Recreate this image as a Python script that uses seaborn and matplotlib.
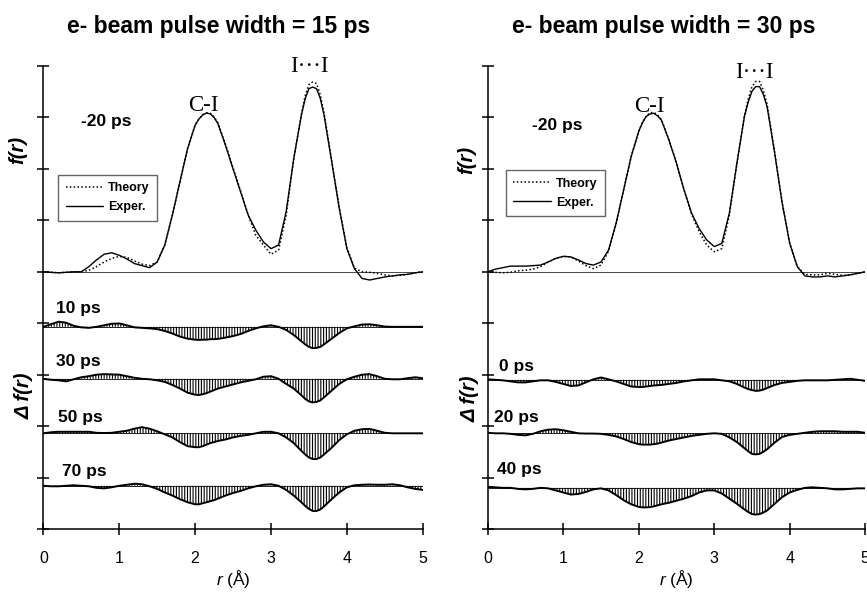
import numpy as np
import pandas as pd
import seaborn as sns
import matplotlib.pyplot as plt

r = np.round(np.linspace(0, 5, 51), 2)
# extra readings taken around the two peaks
r_peak = [2.05, 2.15, 2.25, 3.45, 3.55, 3.65]

# 15 ps panel: f(r) at -20 ps
f_exp_15 = [0, -0.01, -0.02, -0.01, 0, 0, 0.1, 0.23, 0.34, 0.37,
            0.32, 0.25, 0.16, 0.12, 0.08, 0.19, 0.52, 1.1, 1.75, 2.39,
            2.85, 3.05, 3.07, 2.88, 2.46, 2.0, 1.55, 1.1, 0.81, 0.58,
            0.45, 0.52, 1.17, 2.2, 3.04, 3.56, 3.56, 3.04, 2.14, 1.23,
            0.45, 0.06, -0.13, -0.16, -0.13, -0.1, -0.08, -0.06, -0.05, -0.02, 0]
f_exp_15_pk = [2.97, 3.085, 3.0, 3.36, 3.59, 3.37]
f_th_15 = [0, -0.01, -0.02, -0.01, 0, 0, 0.03, 0.1, 0.19, 0.26,
           0.30, 0.28, 0.21, 0.15, 0.12, 0.19, 0.52, 1.1, 1.75, 2.39,
           2.85, 3.05, 3.08, 2.9, 2.48, 2.02, 1.57, 1.1, 0.71, 0.52,
           0.34, 0.42, 1.1, 2.2, 3.06, 3.64, 3.66, 3.08, 2.16, 1.25,
           0.47, 0.07, 0, -0.01, -0.03, -0.06, -0.08, -0.07, -0.05, -0.02, 0]
f_th_15_pk = [2.97, 3.09, 3.01, 3.42, 3.69, 3.44]

# 15 ps panel: difference curves
d_10 = [0, 0.05, 0.1, 0.08, 0.02, -0.01, -0.02, 0, 0.03, 0.06,
        0.065, 0.03, -0.01, -0.02, -0.03, -0.045, -0.08, -0.13, -0.19, -0.23,
        -0.25, -0.25, -0.24, -0.235, -0.21, -0.18, -0.14, -0.08, -0.03, 0.01,
        0.03, 0, -0.06, -0.16, -0.28, -0.39, -0.41, -0.34, -0.23, -0.12,
        -0.03, 0.01, 0.045, 0.05, 0.03, 0.005, 0, 0, 0, 0, 0]
d_10_pk = [-0.255, -0.25, -0.24, -0.34, -0.415, -0.39]
d_30 = [0, -0.02, -0.03, -0.05, -0.01, 0.03, 0.05, 0.08, 0.09, 0.085,
        0.08, 0.05, 0.02, 0, -0.01, -0.03, -0.06, -0.12, -0.19, -0.27,
        -0.31, -0.3, -0.25, -0.19, -0.15, -0.11, -0.07, -0.04, -0.01, 0.04,
        0.05, 0, -0.1, -0.19, -0.32, -0.44, -0.45, -0.36, -0.23, -0.1,
        -0.01, 0.04, 0.08, 0.09, 0.05, 0, -0.01, -0.01, 0.01, 0.03, 0.01]
d_30_pk = [-0.315, -0.28, -0.22, -0.39, -0.46, -0.42]
d_50 = [0, 0.02, 0.03, 0.03, 0.03, 0.03, 0.03, 0.01, 0.005, 0.01,
        0.03, 0.05, 0.09, 0.12, 0.09, 0.04, -0.02, -0.08, -0.17, -0.25,
        -0.27, -0.25, -0.19, -0.15, -0.12, -0.08, -0.05, -0.03, 0, 0.03,
        0.03, 0, -0.08, -0.19, -0.34, -0.47, -0.5, -0.41, -0.28, -0.13,
        -0.02, 0.05, 0.08, 0.085, 0.05, 0.01, 0, 0, 0, 0, 0]
d_50_pk = [-0.27, -0.22, -0.17, -0.41, -0.5, -0.47]
d_70 = [0, -0.01, -0.01, 0, 0.01, 0, -0.01, -0.04, -0.05, -0.03,
        0, 0.02, 0.04, 0.03, -0.01, -0.06, -0.13, -0.19, -0.26, -0.32,
        -0.36, -0.34, -0.3, -0.25, -0.19, -0.14, -0.1, -0.05, -0.01, 0.02,
        0.03, 0, -0.08, -0.19, -0.32, -0.45, -0.49, -0.4, -0.26, -0.13,
        -0.03, 0.01, 0.02, 0.025, 0.02, 0.02, 0.03, 0.01, -0.03, -0.06, -0.08]
d_70_pk = [-0.36, -0.32, -0.28, -0.39, -0.49, -0.46]

# 30 ps panel: f(r) at -20 ps
f_exp_30 = [0, 0.05, 0.08, 0.11, 0.11, 0.11, 0.12, 0.13, 0.19, 0.26,
            0.3, 0.29, 0.23, 0.16, 0.13, 0.19, 0.42, 0.94, 1.59, 2.24,
            2.73, 3.02, 3.08, 2.95, 2.56, 2.11, 1.59, 1.14, 0.84, 0.62,
            0.49, 0.55, 1.14, 2.11, 3.02, 3.51, 3.6, 3.21, 2.31, 1.33,
            0.55, 0.1, -0.08, -0.1, -0.1, -0.08, -0.1, -0.08, -0.06, -0.03, 0]
f_exp_30_pk = [2.9, 3.07, 3.03, 3.3, 3.6, 3.45]
f_th_30 = [0, -0.01, -0.02, -0.01, 0.02, 0.03, 0.05, 0.1, 0.19, 0.26,
           0.3, 0.29, 0.21, 0.12, 0.06, 0.13, 0.4, 0.93, 1.59, 2.24,
           2.73, 3.03, 3.1, 2.96, 2.57, 2.12, 1.6, 1.12, 0.78, 0.52,
           0.39, 0.45, 1.1, 2.1, 3.04, 3.6, 3.7, 3.26, 2.33, 1.35,
           0.56, 0.1, -0.05, -0.06, -0.06, -0.03, -0.05, -0.07, -0.06, -0.03, 0]
f_th_30_pk = [2.91, 3.09, 3.05, 3.36, 3.7, 3.53]

# 30 ps panel: difference curves
d_0 = [0.01, 0, -0.01, -0.03, -0.05, -0.05, -0.03, -0.01, -0.01, -0.04,
       -0.08, -0.12, -0.11, -0.05, 0.01, 0.045, 0.01, -0.03, -0.08, -0.13,
       -0.14, -0.13, -0.11, -0.1, -0.08, -0.06, -0.03, -0.01, 0.01, 0.01,
       0.01, -0.01, -0.03, -0.08, -0.15, -0.2, -0.21, -0.16, -0.1, -0.06,
       -0.04, -0.02, -0.01, -0.01, -0.01, -0.01, 0, 0.01, 0.02, 0, -0.02]
d_0_pk = [-0.14, -0.12, -0.105, -0.18, -0.215, -0.19]
d_20 = [0.01, 0, 0, -0.01, -0.03, -0.04, -0.01, 0.04, 0.07, 0.08,
        0.06, 0.03, 0, -0.005, -0.005, -0.01, -0.03, -0.06, -0.11, -0.17,
        -0.21, -0.22, -0.21, -0.18, -0.14, -0.11, -0.08, -0.05, -0.03, -0.01,
        0, -0.01, -0.08, -0.17, -0.29, -0.4, -0.4, -0.31, -0.18, -0.07,
        -0.03, -0.01, 0.01, 0.03, 0.04, 0.04, 0.04, 0.03, 0.03, 0.03, 0.01]
d_20_pk = [-0.22, -0.22, -0.2, -0.35, -0.41, -0.36]
d_40 = [0.02, 0.01, 0, 0, -0.02, -0.03, -0.02, 0, -0.01, -0.05,
        -0.09, -0.13, -0.12, -0.08, -0.03, -0.01, -0.05, -0.14, -0.24, -0.32,
        -0.37, -0.38, -0.36, -0.32, -0.29, -0.25, -0.21, -0.16, -0.09, -0.05,
        -0.05, -0.11, -0.21, -0.31, -0.42, -0.51, -0.51, -0.44, -0.31, -0.18,
        -0.09, -0.04, 0, 0.01, 0, -0.01, -0.03, -0.03, -0.02, -0.01, -0.01]
d_40_pk = [-0.38, -0.375, -0.34, -0.47, -0.52, -0.48]


def curve(main, peak):
    # merge the regular readings with the extra peak readings, sorted by r
    df = pd.DataFrame({"r": list(r) + r_peak, "v": list(main) + peak})
    return df.sort_values("r").reset_index(drop=True)


panels = [
    {"title": "e- beam pulse width = 15 ps",
     "exp": curve(f_exp_15, f_exp_15_pk), "th": curve(f_th_15, f_th_15_pk),
     "diffs": [("10 ps", curve(d_10, d_10_pk), 3.93),
               ("30 ps", curve(d_30, d_30_pk), 2.92),
               ("50 ps", curve(d_50, d_50_pk), 1.86),
               ("70 ps", curve(d_70, d_70_pk), 0.84)]},
    {"title": "e- beam pulse width = 30 ps",
     "exp": curve(f_exp_30, f_exp_30_pk), "th": curve(f_th_30, f_th_30_pk),
     "diffs": [("0 ps", curve(d_0, d_0_pk), 2.9),
               ("20 ps", curve(d_20, d_20_pk), 1.86),
               ("40 ps", curve(d_40, d_40_pk), 0.8)]},
]

sns.set_style("ticks")
plt.rcParams['font.family'] = ['Liberation Sans', 'DejaVu Sans']
plt.rcParams['text.color'] = 'k'
plt.rcParams['axes.labelcolor'] = 'k'
plt.rcParams['axes.edgecolor'] = 'k'
plt.rcParams['xtick.color'] = 'k'
plt.rcParams['ytick.color'] = 'k'
plt.rcParams['hatch.linewidth'] = 0.8
plt.rcParams['mathtext.fontset'] = 'custom'
plt.rcParams['mathtext.it'] = 'Liberation Sans:italic'
plt.rcParams['mathtext.rm'] = 'Liberation Sans'

fig = plt.figure(figsize=(8.67, 5.98), dpi=100)
ax_l = fig.add_axes([0.05, 0.1154, 0.4376, 0.7742])
ax_r = fig.add_axes([0.5625, 0.1154, 0.4355, 0.7742])

f_base = 5.0
layout = [
    {"ax": ax_l, "tx": 0.252, "lab20": (0.5, 7.92), "ci": (2.11, 8.24),
     "ii": (3.51, 8.99), "leg": (0.039, 0.765),
     "yl_f": (0.021, 0.749), "yl_d": (0.028, 0.339),
     "dlab": [(0.17, 0.35), (0.17, 0.34), (0.19, 0.31), (0.24, 0.27)]},
    {"ax": ax_r, "tx": 0.766, "lab20": (0.59, 7.85), "ci": (2.14, 8.21),
     "ii": (3.53, 8.87), "leg": (0.048, 0.775),
     "yl_f": (0.538, 0.732), "yl_d": (0.542, 0.334),
     "dlab": [(0.15, 0.26), (0.08, 0.3), (0.12, 0.36)]},
]

for p, L in zip(panels, layout):
    ax = L["ax"]
    # f(r) curves
    ax.hlines(f_base, 0, 5, color='k', lw=0.5)
    sns.lineplot(x=p["th"]["r"], y=f_base + p["th"]["v"], ax=ax, color='k',
                 lw=1.1, linestyle=(0, (1, 1.5)), label='Theory')
    sns.lineplot(x=p["exp"]["r"], y=f_base + p["exp"]["v"], ax=ax, color='k',
                 lw=1.0, label='Exper.')
    ax.legend(loc='upper left', bbox_to_anchor=L["leg"], borderaxespad=0,
              prop={'size': 9, 'weight': 'bold'}, handlelength=3.0,
              fancybox=False, edgecolor='0.4', framealpha=1,
              borderpad=0.6, labelspacing=0.55, handletextpad=0.4)

    # difference curves with vertical hatching
    for (lab, d, base), (dx, dy) in zip(p["diffs"], L["dlab"]):
        y = base + d["v"]
        ax.fill_between(d["r"], base, y, facecolor='none', edgecolor='k',
                        hatch='||||||', linewidth=0)
        ax.hlines(base, 0, 5, color='k', lw=0.6)
        sns.lineplot(x=d["r"], y=y, ax=ax, color='k', lw=1.4, legend=False)
        ax.text(dx, base + dy, lab, fontsize=12.5, fontweight='bold',
                ha='left', va='center')

    ax.text(*L["lab20"], "-20 ps", fontsize=12.5, fontweight='bold',
            va='center')
    ax.text(*L["ci"], "C-I", family='Liberation Serif', fontsize=16.5,
            ha='center', va='center')
    ax.text(*L["ii"], "I\u00b7\u00b7\u00b7I", family='Liberation Serif',
            fontsize=16.5, ha='center', va='center')

    ax.set_xlim(0, 5)
    ax.set_ylim(0, 9)
    ax.set_xticks([0, 1, 2, 3, 4, 5])
    ax.set_yticks(range(10))
    ax.set_yticklabels([])
    ax.tick_params(axis='both', direction='inout', length=8, width=1.1,
                   labelsize=11.5, pad=11.5)
    ax.set_xlabel(r'$\mathit{r}$ (Å)', fontsize=12.5, labelpad=2)
    ax.set_ylabel('')
    for s in ['top', 'right']:
        ax.spines[s].set_visible(False)
    for s in ['left', 'bottom']:
        ax.spines[s].set_linewidth(1.1)

    fig.text(L["tx"], 0.955, p["title"], fontsize=16.5, fontweight='bold',
             ha='center', va='center')
    fig.text(*L["yl_f"], "f(r)", fontsize=14.5, fontweight='bold',
             style='italic', rotation=90, ha='center', va='center')
    fig.text(*L["yl_d"], "\u0394 f(r)", fontsize=14.5, fontweight='bold',
             style='italic', rotation=90, ha='center', va='center')

fig.savefig("out.png", dpi=100)
